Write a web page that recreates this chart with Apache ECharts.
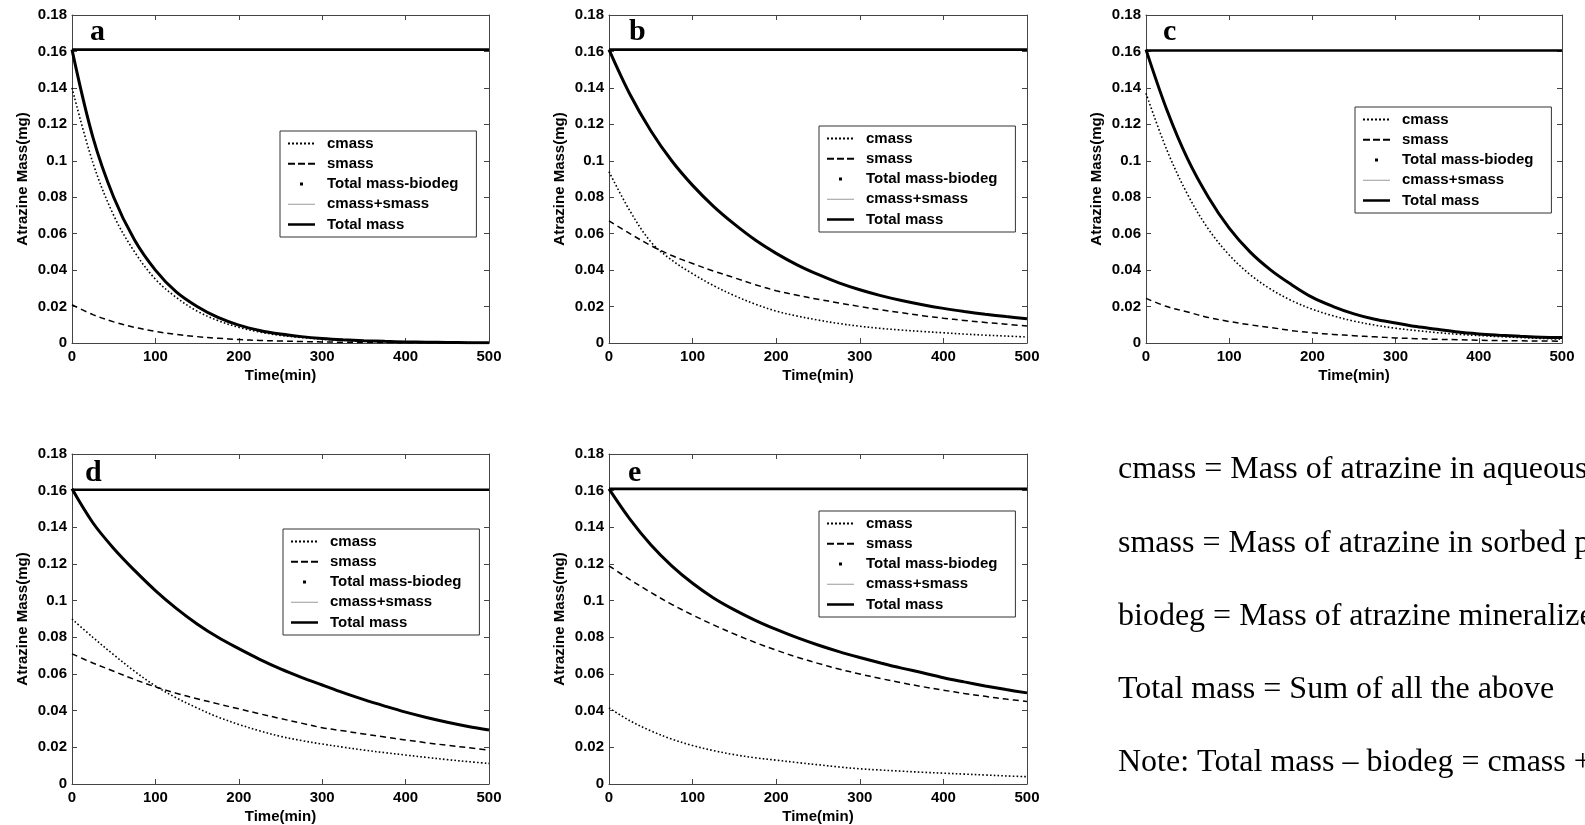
<!DOCTYPE html>
<html><head><meta charset="utf-8">
<script src="https://cdn.jsdelivr.net/npm/echarts@6/dist/echarts.min.js"></script>
<style>html,body{margin:0;padding:0;background:#fff;overflow:hidden}#c{width:1585px;height:825px}</style>
</head><body><div id="c"></div>
<script>
// ---------------- data ----------------
const times = [0,25,50,75,100,125,150,175,200,225,250,275,300,325,350,375,400,425,450,475,500];
const xTicks = [0,100,200,300,400,500];
const yTicks = [0,0.02,0.04,0.06,0.08,0.1,0.12,0.14,0.16,0.18];
const panelLabels = ['a','b','c','d','e'];
const seriesNames = ['cmass','smass','Total mass-biodeg','cmass+smass','Total mass'];

const cmassA  = [0.140,0.099,0.070,0.050,0.035,0.025,0.0175,0.0123,0.0086,0.006,0.0042,0.003,0.0021,0.0015,0.001,0.0007,0.0005,0.0004,0.0003,0.0002,0.0001];
const smassA  = [0.021,0.0156,0.0116,0.0086,0.0064,0.0047,0.0035,0.0026,0.0019,0.0014,0.0011,0.0008,0.0006,0.0004,0.0003,0.0002,0.0002,0.0001,0.0001,0.0001,0.0001];
const remainA = [0.161,0.113,0.080,0.0565,0.040,0.028,0.020,0.014,0.0098,0.0069,0.0049,0.0035,0.0025,0.0018,0.0013,0.0009,0.0006,0.0004,0.0003,0.0002,0.0001];

const cmassB  = [0.094,0.0725,0.0555,0.0455,0.038,0.0315,0.026,0.0213,0.0175,0.0148,0.0126,0.0107,0.0092,0.008,0.0071,0.0063,0.0056,0.0049,0.0043,0.0038,0.0033];
const smassB  = [0.067,0.060,0.0535,0.048,0.0436,0.0395,0.0358,0.032,0.0287,0.0262,0.024,0.022,0.020,0.0182,0.0166,0.015,0.0136,0.0124,0.0113,0.0103,0.0093];
const remainB = [0.161,0.1365,0.1165,0.100,0.0865,0.075,0.0652,0.0565,0.0492,0.0429,0.0376,0.033,0.0292,0.026,0.0233,0.021,0.019,0.0173,0.0158,0.0145,0.0133];

const cmassC  = [0.137,0.106,0.0815,0.0625,0.0483,0.0376,0.0295,0.0233,0.0185,0.0149,0.012,0.0098,0.0081,0.0068,0.0057,0.0048,0.0041,0.0035,0.003,0.0025,0.0021];
const smassC  = [0.0245,0.020,0.017,0.014,0.0118,0.010,0.0085,0.0068,0.0056,0.0047,0.004,0.0034,0.0028,0.0024,0.002,0.0018,0.0015,0.0013,0.0012,0.0011,0.001];
const remainC = [0.161,0.128,0.101,0.080,0.063,0.050,0.040,0.032,0.025,0.020,0.016,0.013,0.011,0.009,0.0075,0.006,0.005,0.0043,0.0037,0.0032,0.003];

const cmassD  = [0.090,0.080,0.0705,0.0615,0.0535,0.047,0.0415,0.0365,0.0325,0.029,0.026,0.0237,0.0218,0.0201,0.0185,0.0171,0.0158,0.0145,0.0133,0.0122,0.0112];
const smassD  = [0.071,0.066,0.0615,0.057,0.053,0.0495,0.0465,0.0437,0.041,0.0383,0.0357,0.0332,0.0307,0.029,0.0273,0.0256,0.024,0.0225,0.0211,0.0198,0.0185];
const remainD = [0.161,0.1425,0.1285,0.1165,0.1055,0.0958,0.0873,0.080,0.0738,0.068,0.0628,0.0582,0.054,0.0498,0.046,0.0425,0.0392,0.0363,0.0337,0.0314,0.0294];

const cmassE  = [0.0415,0.0345,0.029,0.0245,0.021,0.0182,0.016,0.0143,0.013,0.0117,0.0105,0.0093,0.0083,0.0076,0.007,0.0064,0.0059,0.0054,0.0049,0.0044,0.004];
const smassE  = [0.119,0.1115,0.1045,0.098,0.0922,0.0868,0.0818,0.0772,0.073,0.0692,0.0658,0.0627,0.060,0.0575,0.0552,0.0531,0.0512,0.0494,0.0478,0.0463,0.045];
const remainE = [0.161,0.1445,0.1305,0.119,0.1095,0.1015,0.095,0.0893,0.0843,0.0798,0.0758,0.0722,0.069,0.066,0.0632,0.0607,0.058,0.0557,0.0535,0.0515,0.0497];

const totalMass = [0.161,0.161,0.1605,0.1605,0.161];

const notes = [
  'cmass = Mass of atrazine in aqueous phase',
  'smass = Mass of atrazine in sorbed phase',
  'biodeg = Mass of atrazine mineralized',
  'Total mass = Sum of all the above',
  'Note: Total mass \u2013 biodeg = cmass + smass'
];

// ---------------- layout / style ----------------
const grids = [
  {l:72,  t:15,  w:417, h:328},
  {l:609, t:15,  w:418, h:328},
  {l:1146,t:15,  w:416, h:328},
  {l:72,  t:454, w:417, h:330},
  {l:609, t:454, w:418, h:330}
];
const legendPos = [
  {l:280, t:131},{l:819, t:126},{l:1355, t:107},{l:283, t:529},{l:819, t:511}
];
const labelPos = [
  {l:90, t:17},{l:629, t:17},{l:1163, t:17},{l:85, t:458},{l:628, t:458}
];
const noteX = 1118, noteY0 = 470, noteStep = 73.2;

const SANS = '"Liberation Sans", Arial, sans-serif';
const SERIF = '"Liberation Serif", "Times New Roman", serif';
const AX = '#444';

const panels = [
  [cmassA, smassA, remainA],
  [cmassB, smassB, remainB],
  [cmassC, smassC, remainC],
  [cmassD, smassD, remainD],
  [cmassE, smassE, remainE]
];

const pairs = arr => arr.map((v, k) => [times[k], v]);

const icons = {
  'cmass': 'path://M0,0h2v2h-2z M4,0h2v2h-2z M8,0h2v2h-2z M12,0h2v2h-2z M16,0h2v2h-2z M20,0h2v2h-2z M24,0h2v2h-2z M34,0L34,2',
  'smass': 'path://M0,0h7v2h-7z M10,0h7v2h-7z M20,0h7v2h-7z M34,0L34,2',
  'Total mass-biodeg': 'path://M12,0h3v3h-3z M0,0L0,3 M34,0L34,3',
  'cmass+smass': 'path://M0,0h27v1h-27z M34,0L34,1',
  'Total mass': 'path://M0,0h27v2.6h-27z M34,0L34,2.6'
};
const iconColors = {'cmass':'#000','smass':'#000','Total mass-biodeg':'#000','cmass+smass':'#9a9a9a','Total mass':'#000'};

const grid = [], xAxis = [], yAxis = [], series = [], legend = [], title = [];

panels.forEach((p, i) => {
  const g = grids[i];
  grid.push({left:g.l, top:g.t, width:g.w, height:g.h, containLabel:false});
  const xBase = {
    gridIndex:i, type:'value', min:xTicks[0], max:xTicks[xTicks.length-1], interval:xTicks[1]-xTicks[0],
    axisLine:{show:true, onZero:false, lineStyle:{color:AX, width:1}},
    axisTick:{show:true, inside:true, length:5, lineStyle:{color:AX, width:1}},
    splitLine:{show:false}
  };
  xAxis.push(Object.assign({}, xBase, {
    position:'bottom',
    axisLabel:{show:true, margin:6, color:'#000', fontFamily:SANS, fontWeight:'bold', fontSize:15},
    name:'Time(min)', nameLocation:'middle', nameGap:25,
    nameTextStyle:{color:'#000', fontFamily:SANS, fontWeight:'bold', fontSize:15}
  }));
  xAxis.push(Object.assign({}, xBase, {position:'top', axisLabel:{show:false}}));
  const yBase = {
    gridIndex:i, type:'value', min:yTicks[0], max:yTicks[yTicks.length-1], interval:yTicks[1]-yTicks[0],
    axisLine:{show:true, onZero:false, lineStyle:{color:AX, width:1}},
    axisTick:{show:true, inside:true, length:5, lineStyle:{color:AX, width:1}},
    splitLine:{show:false}
  };
  yAxis.push(Object.assign({}, yBase, {
    position:'left',
    axisLabel:{show:true, margin:5, color:'#000', fontFamily:SANS, fontWeight:'bold', fontSize:15,
      formatter: v => v === 0 ? '0' : String(+v.toFixed(2))},
    name:'Atrazine Mass(mg)', nameLocation:'middle', nameGap:42, nameRotate:90,
    nameTextStyle:{color:'#000', fontFamily:SANS, fontWeight:'bold', fontSize:15}
  }));
  yAxis.push(Object.assign({}, yBase, {position:'right', axisLabel:{show:false}}));

  const xi = 2*i, yi = 2*i;
  const common = {type:'line', xAxisIndex:xi, yAxisIndex:yi, symbol:'none', smooth:0.35, animation:false, silent:true};
  series.push(Object.assign({}, common, {name:seriesNames[3], data:pairs(p[2]), z:2,
    lineStyle:{color:'#9a9a9a', width:1}}));
  series.push(Object.assign({}, common, {name:seriesNames[2], data:pairs(p[2]), z:3,
    lineStyle:{color:'#000', width:3}}));
  series.push(Object.assign({}, common, {name:seriesNames[1], data:pairs(p[1]), z:4,
    lineStyle:{color:'#000', width:1.5, type:[6,4]}}));
  series.push(Object.assign({}, common, {name:seriesNames[0], data:pairs(p[0]), z:4,
    lineStyle:{color:'#000', width:1.6, type:[1.6,2.2]}}));
  series.push(Object.assign({}, common, {name:seriesNames[4], smooth:false,
    data:[[times[0], totalMass[i]], [times[times.length-1], totalMass[i]]], z:5,
    lineStyle:{color:'#000', width:2.6}}));

  legend.push({
    left:legendPos[i].l, top:legendPos[i].t, orient:'vertical',
    itemWidth:34, itemHeight:14, itemGap:5.25, padding:[5,18,5,8],
    borderColor:'#333', borderWidth:1, backgroundColor:'#fff', selectedMode:false,
    symbolKeepAspect:true,
    textStyle:{fontFamily:SANS, fontWeight:'bold', fontSize:15, color:'#000', lineHeight:14},
    data: seriesNames.map(n => ({name:n, icon:icons[n],
      itemStyle:{color:iconColors[n], borderWidth:0, borderColor:'transparent', opacity:1}}))
  });

  title.push({
    text: panelLabels[i], left:labelPos[i].l, top:labelPos[i].t, padding:0,
    textStyle:{fontFamily:SERIF, fontWeight:'bold', fontSize:30, lineHeight:30, color:'#000'}
  });
});

const graphic = notes.map((s, k) => ({
  type:'text', x:noteX, y:noteY0 + k*noteStep, silent:true,
  style:{text:s, fill:'#000', font:'32px ' + SERIF, verticalAlign:'middle', align:'left'}
}));

const chart = echarts.init(document.getElementById('c'), null, {renderer:'canvas'});
chart.setOption({
  animation:false, backgroundColor:'#fff',
  grid, xAxis, yAxis, series, legend, title, graphic, tooltip:{show:false}
});
</script>
</body></html>
